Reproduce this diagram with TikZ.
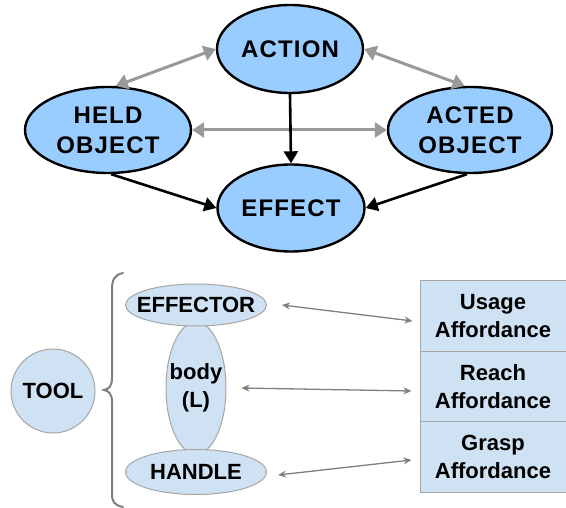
\documentclass[tikz,border=0pt]{standalone}
\usepackage{fontspec}
\setmainfont{Liberation Sans}
\newfontfamily\spacedfont[LetterSpace=5]{Liberation Sans}
\usetikzlibrary{arrows.meta,shapes.geometric}
\definecolor{topfill}{HTML}{99CCFF}
\definecolor{botfill}{HTML}{CFE2F3}
\definecolor{botline}{HTML}{A6A6A6}
\definecolor{grayarr}{HTML}{999999}
\definecolor{thinarr}{HTML}{7F7F7F}
\newcommand{\zw}[1]{\makebox[0pt]{#1}}
\begin{document}
\begin{tikzpicture}[x=1pt,y=-1pt,
  topnode/.style={ellipse,draw=black,line width=2.4pt,fill=topfill,inner sep=0pt,
    align=center,font=\spacedfont\bfseries\fontsize{24}{30}\selectfont},
  botnode/.style={ellipse,draw=botline,line width=1pt,fill=botfill,inner sep=0pt,
    align=center,font=\bfseries\fontsize{22}{28}\selectfont},
  affbox/.style={rectangle,draw=botline,line width=1pt,fill=botfill,inner sep=0pt,
    minimum width=146pt,minimum height=71pt,align=center,font=\bfseries\fontsize{22}{28}\selectfont},
  grayboth/.style={draw=grayarr,line width=3pt,{Triangle[length=12pt,width=15pt]}-{Triangle[length=12pt,width=15pt]}},
  blackone/.style={draw=black,line width=2.6pt,-{Triangle[length=12pt,width=14pt]}},
  thinboth/.style={draw=thinarr,line width=1.3pt,{Stealth[length=8pt,width=7pt]}-{Stealth[length=8pt,width=7pt]}},
  bracestyle/.style={draw=thinarr,line width=2pt,line cap=round}
]
\useasboundingbox (0,0) rectangle (566,508);

% top part
\node[topnode,minimum width=146pt,minimum height=88pt] (action) at (290,49) {ACTION};
\node[topnode,minimum width=166pt,minimum height=86pt] (held) at (108,130) {HELD\\OBJECT};
\node[topnode,minimum width=164pt,minimum height=86pt] (acted) at (470,130) {ACTED\\OBJECT};
\node[topnode,minimum width=147pt,minimum height=87pt] (effect) at (291,208) {EFFECT};

\draw[grayboth] (action.west) -- (held.80);
\draw[grayboth] (action.east) -- (acted.97);
\draw[grayboth] (held.east) -- (acted.west);
\draw[blackone] (action.south) -- (effect.north);
\draw[blackone] (held.-86) -- (effect.west);
\draw[blackone] (acted.-94) -- (effect.east);

% bottom part
\node[circle,draw=botline,line width=1pt,fill=botfill,minimum size=84pt,inner sep=0pt,
  font=\bfseries\fontsize{22}{28}\selectfont] (tool) at (53,391) {TOOL};

\draw[bracestyle] (123,273) .. controls (114,275) and (112,280) .. (112,290)
  -- (112,378) .. controls (112,386) and (109,389) .. (104,390)
  .. controls (109,391) and (112,394) .. (112,402)
  -- (112,493) .. controls (112,502) and (114,505) .. (123,507);

\node[botnode,minimum width=60pt,minimum height=132pt] (body) at (196,388) {\zw{body}\\\zw{(L)}};
\node[botnode,minimum width=141pt,minimum height=42pt] (effector) at (196,305) {\zw{EFFECTOR}};
\node[botnode,minimum width=141pt,minimum height=45pt] (handle) at (196,472) {\zw{HANDLE}};

\node[affbox] (usage) at (493,316) {Usage\\Affordance};
\node[affbox] (reach) at (493,387) {Reach\\Affordance};
\node[affbox] (grasp) at (493,457) {Grasp\\Affordance};

\draw[thinboth] ([xshift=15pt]effector.east) -- ([xshift=-7pt,yshift=-5pt]usage.west);
\draw[thinboth] ([xshift=15pt]body.east) -- ([xshift=-8pt,yshift=-4pt]reach.west);
\draw[thinboth] ([xshift=11pt,yshift=-3pt]handle.east) -- ([xshift=-8pt,yshift=-3pt]grasp.west);
\end{tikzpicture}
\end{document}
